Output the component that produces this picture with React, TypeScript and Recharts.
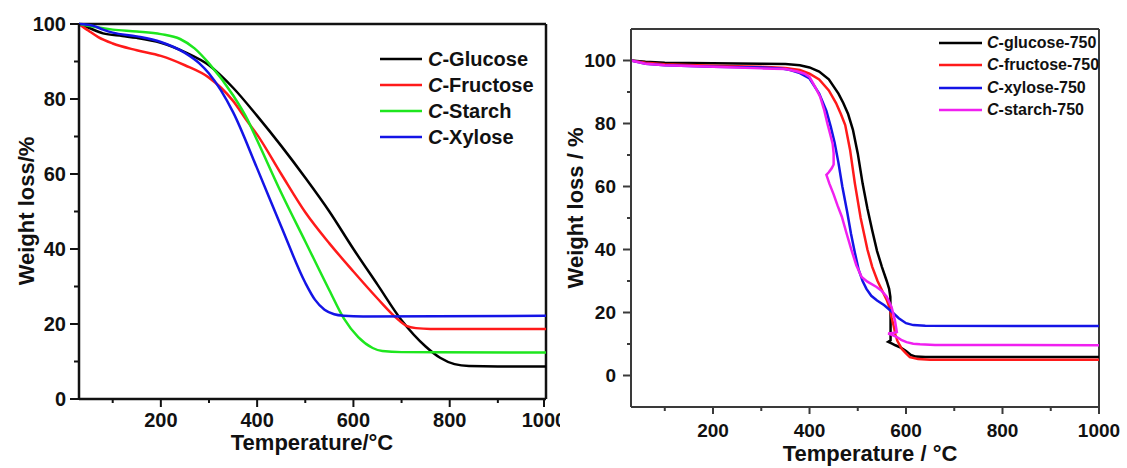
import React from "react";
import { LineChart, Line, XAxis, YAxis, Legend, ReferenceLine } from "recharts";

type Pt = [number, number];

// left panel: C-* samples (temperature °C, weight %)
const glucose: Pt[] = [
    [30, 100], [50, 99], [80, 97.5], [120, 96.8], [150, 96.3], [200, 95], [250, 92.5],
    [300, 89], [350, 83], [400, 75.5], [450, 67.5], [500, 59], [550, 50], [600, 40],
    [650, 30.5], [700, 21], [750, 14], [780, 11], [810, 9.3], [840, 8.8], [900, 8.7], [1000, 8.7],
];
const fructose: Pt[] = [
    [30, 100], [50, 98.2], [70, 96.5], [100, 94.8], [150, 93], [200, 91.5], [250, 89],
    [300, 85.7], [350, 79.5], [380, 74], [400, 70.5], [450, 60], [500, 49.8], [550, 41.5],
    [600, 34], [650, 26.8], [690, 21.5], [710, 19.5], [730, 18.9], [760, 18.7], [1000, 18.7],
];
const starch: Pt[] = [
    [30, 100], [100, 98.5], [150, 98], [200, 97.3], [240, 96], [270, 93.5], [300, 89.5],
    [350, 81], [380, 74.5], [400, 69], [450, 55], [500, 42], [550, 29], [580, 21.5],
    [610, 16.5], [640, 13.6], [660, 12.8], [700, 12.5], [1000, 12.4],
];
const xylose: Pt[] = [
    [30, 100], [60, 99.5], [80, 98.5], [100, 97.7], [150, 96.7], [200, 95.2], [250, 92.3],
    [280, 89.5], [300, 86.8], [350, 76.5], [400, 61.5], [450, 46], [500, 31], [520, 26.5],
    [540, 23.8], [560, 22.6], [580, 22.2], [620, 22], [1000, 22.2],
];

// right panel: C-*-750 samples
const glucose750: Pt[] = [
    [30, 100], [60, 99.6], [100, 99.3], [200, 99.1], [300, 99], [350, 98.9], [380, 98.5],
    [400, 97.8], [420, 96.5], [440, 94], [460, 89.5], [470, 86.5], [480, 83], [490, 78],
    [500, 70.5], [510, 61], [520, 53], [530, 46], [540, 39.5], [550, 34.5], [560, 30],
    [565, 27.5], [567.5, 25], [568, 18], [568, 11.2], [563, 10.7], [570, 10.2], [578, 9.6],
    [590, 8.8], [600, 7.8], [610, 6.5], [620, 6], [640, 5.9], [1000, 5.9],
];
const fructose750: Pt[] = [
    [30, 100], [60, 99.3], [100, 98.8], [200, 98.3], [300, 98], [350, 97.6], [380, 97],
    [400, 95.8], [420, 94], [440, 90.5], [455, 86.5], [465, 83], [474, 79.5], [484, 71.7],
    [494, 61], [506, 50], [520, 40], [530, 34.5], [541, 30], [552, 26.5], [560, 24],
    [566, 21.5], [570, 18.5], [574, 16], [578, 13], [582, 11], [591, 8.5], [600, 7],
    [608, 5.8], [625, 5.2], [650, 5], [1000, 5],
];
const xylose750: Pt[] = [
    [30, 100], [60, 99], [100, 98.5], [200, 98], [300, 97.8], [340, 97.5], [360, 97],
    [380, 96], [400, 94.3], [420, 89.5], [435, 84], [444, 79], [452, 74], [460, 67.5],
    [468, 60], [478, 52], [486, 45], [494, 39], [502, 33.5], [510, 30], [518, 27.5],
    [528, 25.3], [540, 23.8], [555, 22.3], [570, 20.3], [585, 18.2], [600, 16.6],
    [615, 16], [640, 15.8], [1000, 15.7],
];
const starch750: Pt[] = [
    [30, 100], [60, 99], [100, 98.5], [200, 98], [300, 97.5], [350, 97.3], [375, 96.5],
    [390, 95.8], [400, 94.8], [412, 91.5], [422, 88.5], [430, 84.5], [437, 80], [443, 76.5],
    [448, 73.5], [450, 70.5], [450, 67], [446, 65.8], [440, 64.5], [435, 63.7], [437, 62.8],
    [441, 61], [450, 57.5], [458, 54], [467, 50.4], [477, 45], [487, 39.8], [497, 35],
    [508, 31.3], [520, 29.8], [539, 28.1], [550, 26.8], [560, 25], [570, 21.8], [577, 17.5],
    [581, 13.8], [576, 13.6], [563, 13.3], [572, 12.8], [581, 12.2], [590, 11.3], [601, 10.6],
    [615, 10.1], [629, 9.9], [660, 9.7], [1000, 9.6],
];

const xTicks = [100, 200, 300, 400, 500, 600, 700, 800, 900, 1000];
const leftYTicks = [0, 10, 20, 30, 40, 50, 60, 70, 80, 90, 100];
const rightYTicks = [0, 10, 20, 30, 40, 50, 60, 70, 80, 90, 100];

const leftSeries = [
    { name: "C-Glucose", data: glucose, color: "#000000" },
    { name: "C-Fructose", data: fructose, color: "#ff1a1a" },
    { name: "C-Starch", data: starch, color: "#1ee61e" },
    { name: "C-Xylose", data: xylose, color: "#1414e6" },
];
const rightSeries = [
    { name: "C-glucose-750", data: glucose750, color: "#000000" },
    { name: "C-fructose-750", data: fructose750, color: "#ff1a1a" },
    { name: "C-xylose-750", data: xylose750, color: "#1414e6" },
    { name: "C-starch-750", data: starch750, color: "#f020f0" },
];

const FONT = "'Liberation Sans', Arial, sans-serif";
const rows = (pts: Pt[]) => pts.map(([t, w]) => ({ t, w }));

function makeXTick(axisY: number, labelY: number, color: string, fontSize: number, major: number, minor: number) {
    return (p: any) => {
        const v = p.payload.value;
        const isMajor = v % 200 === 0;
        return (
            <g>
                <line x1={p.x} x2={p.x} y1={axisY} y2={axisY + (isMajor ? major : minor)} stroke={color} strokeWidth={2} />
                {isMajor && (
                    <text x={p.x} y={labelY} textAnchor="middle" fontFamily={FONT} fontWeight="bold" fontSize={fontSize} fill="#111">
                        {v}
                    </text>
                )}
            </g>
        );
    };
}

function makeYTick(axisX: number, labelX: number, color: string, fontSize: number, major: number, minor: number) {
    return (p: any) => {
        const v = p.payload.value;
        const isMajor = v % 20 === 0;
        return (
            <g>
                <line x1={axisX - (isMajor ? major : minor)} x2={axisX} y1={p.y} y2={p.y} stroke={color} strokeWidth={2} />
                {isMajor && (
                    <text x={labelX} y={p.y} dy="0.36em" textAnchor="end" fontFamily={FONT} fontWeight="bold" fontSize={fontSize} fill="#111">
                        {v}
                    </text>
                )}
            </g>
        );
    };
}

// axis titles placed at fixed spots, like the source figure
function axisTitle(text: string, x: number, y: number, vertical: boolean) {
    return () => (
        <text
            x={x} y={y} textAnchor="middle" dy={vertical ? "0.36em" : 0}
            transform={vertical ? `rotate(-90 ${x} ${y})` : undefined}
            fontFamily={FONT} fontWeight="bold" fontSize={22} fill="#111"
        >
            {text}
        </text>
    );
}

function makeLegend(series: { name: string; color: string }[], fontSize: number, rowH: number, lineW: number, gap: number) {
    return () => (
        <div style={{ fontFamily: FONT, fontWeight: "bold", fontSize, color: "#111" }}>
            {series.map((s) => (
                <div key={s.name} style={{ display: "flex", alignItems: "center", height: rowH, whiteSpace: "nowrap" }}>
                    <svg width={lineW} height={4} style={{ marginRight: gap }}>
                        <line x1={0} x2={lineW} y1={2} y2={2} stroke={s.color} strokeWidth={2.5} />
                    </svg>
                    <span>
                        <i>{s.name.charAt(0)}</i>
                        {s.name.slice(1)}
                    </span>
                </div>
            ))}
        </div>
    );
}

function LeftPanel() {
    const axis = "#111";
    return (
        <div style={{ position: "absolute", left: 0, top: 0 }}>
            <LineChart width={560} height={468} margin={{ top: 24, right: 14, bottom: 0, left: 0 }}>
                <XAxis
                    dataKey="t" type="number" domain={[30, 1000]} ticks={xTicks} allowDuplicatedCategory={false}
                    height={69} tickLine={false} axisLine={{ stroke: axis, strokeWidth: 2.5 }}
                    tick={makeXTick(399, 427, axis, 20, 8, 4)}
                    label={{ content: axisTitle("Temperature/°C", 312, 450, false) }}
                />
                <YAxis
                    type="number" domain={[0, 100]} ticks={leftYTicks} width={79}
                    tickLine={false} axisLine={{ stroke: axis, strokeWidth: 2.5 }}
                    tick={makeYTick(79, 66, axis, 20, 9, 5)}
                    label={{ content: axisTitle("Weight loss/%", 26, 211, true) }}
                />
                <ReferenceLine y={100} stroke={axis} strokeWidth={2.5} />
                <ReferenceLine x={1000} stroke={axis} strokeWidth={2.5} />
                {leftSeries.map((s) => (
                    <Line
                        key={s.name} data={rows(s.data)} dataKey="w" name={s.name} type="monotone"
                        stroke={s.color} strokeWidth={2.5} dot={false} isAnimationActive={false}
                    />
                ))}
                <Legend
                    layout="vertical" align="center" verticalAlign="middle"
                    wrapperStyle={{ position: "absolute", left: 380, top: 46, width: "auto" }}
                    content={makeLegend(leftSeries, 20, 26, 42, 6)}
                />
            </LineChart>
        </div>
    );
}

function RightPanel() {
    const axis = "#3a3a3a";
    return (
        <div style={{ position: "absolute", left: 560, top: 0 }}>
            <LineChart width={567} height={468} margin={{ top: 29, right: 28, bottom: 0, left: 0 }}>
                <XAxis
                    dataKey="t" type="number" domain={[30, 1000]} ticks={xTicks} allowDuplicatedCategory={false}
                    height={61} tickLine={false} axisLine={{ stroke: axis, strokeWidth: 2 }}
                    tick={makeXTick(407, 437, axis, 19, 7, 4)}
                    label={{ content: axisTitle("Temperature / °C", 310, 461, false) }}
                />
                <YAxis
                    type="number" domain={[-10, 110]} ticks={rightYTicks} width={71}
                    tickLine={false} axisLine={{ stroke: axis, strokeWidth: 2 }}
                    tick={makeYTick(71, 56, axis, 19, 8, 4)}
                    label={{ content: axisTitle("Weight loss / %", 15, 208, true) }}
                />
                <ReferenceLine y={110} stroke={axis} strokeWidth={2} />
                <ReferenceLine x={1000} stroke={axis} strokeWidth={2} />
                {rightSeries.map((s) => (
                    <Line
                        key={s.name} data={rows(s.data)} dataKey="w" name={s.name} type="linear"
                        stroke={s.color} strokeWidth={2.5} dot={false} isAnimationActive={false}
                    />
                ))}
                <Legend
                    layout="vertical" align="center" verticalAlign="middle"
                    wrapperStyle={{ position: "absolute", left: 379, top: 32, width: "auto" }}
                    content={makeLegend(rightSeries, 16, 22.3, 43, 5)}
                />
            </LineChart>
        </div>
    );
}

export default function App() {
    return (
        <div style={{ position: "absolute", left: 0, top: 0, width: 1127, height: 468, background: "#fff", overflow: "hidden" }}>
            <LeftPanel />
            <RightPanel />
        </div>
    );
}
